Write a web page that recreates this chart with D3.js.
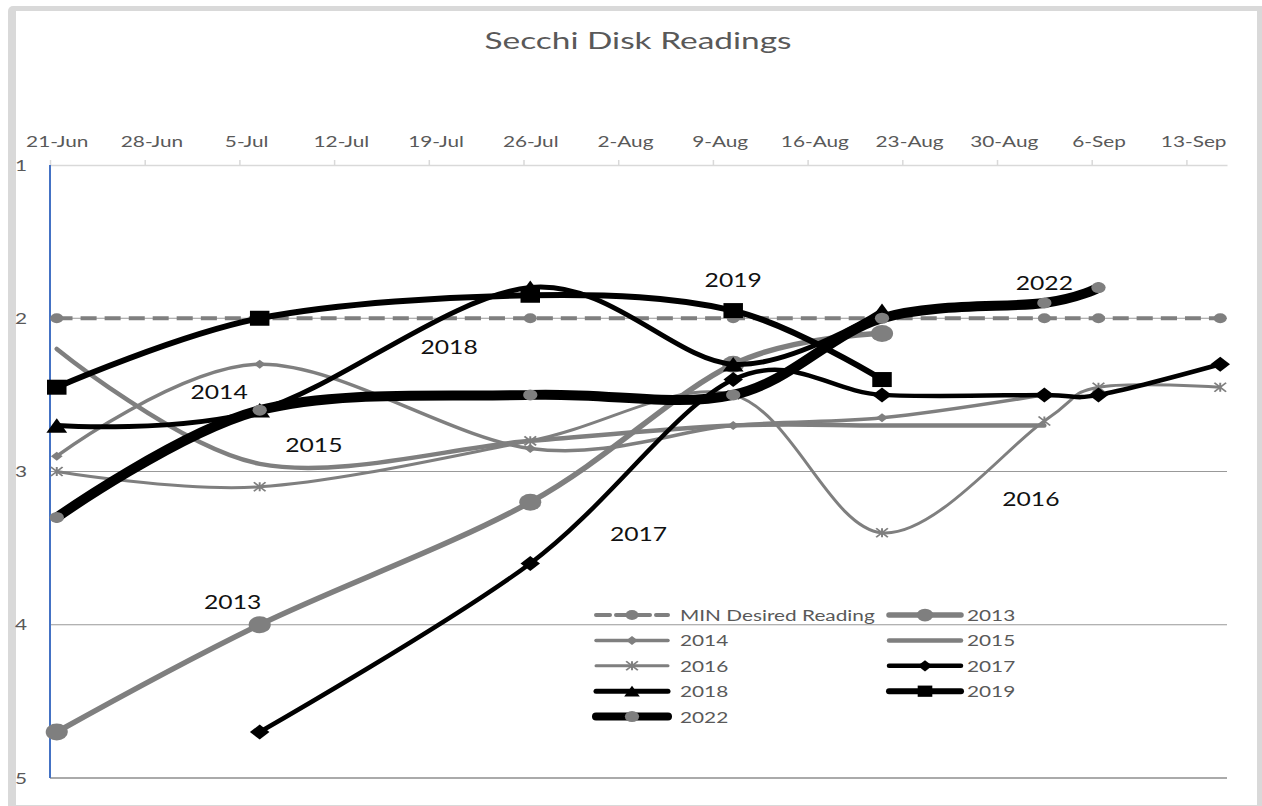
<!DOCTYPE html>
<html>
<head>
<meta charset="utf-8">
<script src="https://cdn.jsdelivr.net/npm/d3@7"></script>
<style>
  body { margin: 0; background: #fff; }
  svg { display: block; font-family: Lato, "Open Sans", sans-serif; }
</style>
</head>
<body>
<svg id="chart" width="1262" height="806"></svg>
<script>

// sampling dates (every year is put on the same season)
var dates = ["06-21", "07-06", "07-26", "08-10", "08-21", "09-02", "09-06", "09-15"];

// readings, null where there was no reading
var minDesired = [2, 2, 2, 2, 2, 2, 2, 2];
var y2013 = [4.7, 4.0, 3.2, 2.3, 2.1, null, null, null];
var y2014 = [2.9, 2.3, 2.85, 2.7, 2.65, 2.5, null, null];
var y2015 = [2.2, 2.95, 2.8, 2.7, 2.7, 2.7, null, null];
var y2016 = [3.0, 3.1, 2.8, 2.5, 3.4, 2.67, 2.45, 2.45];
var y2017 = [null, 4.7, 3.6, 2.4, 2.5, 2.5, 2.5, 2.3];
var y2018 = [2.7, 2.6, 1.8, 2.3, 1.95, null, null, null];
var y2019 = [2.45, 2.0, 1.85, 1.95, 2.4, null, null, null];
var y2022 = [3.3, 2.6, 2.5, 2.5, 2.0, 1.9, 1.8, null];

// axis ticks
var tickDates = ["06-21", "06-28", "07-05", "07-12", "07-19", "07-26", "08-02", "08-09", "08-16", "08-23", "08-30", "09-06", "09-13"];
var yTicks = [1, 2, 3, 4, 5];

// year labels written on the plot (date, reading)
var labelNames = ["2019", "2022", "2018", "2014", "2015", "2016", "2017", "2013"];
var labelDates = ["08-10", "09-02", "07-20", "07-03", "07-10", "09-01", "08-03", "07-04"];
var labelValues = [1.75, 1.77, 2.19, 2.48, 2.83, 3.18, 3.41, 3.85];

var gray = "#7f7f7f";
var textGray = "#595959";
var sx = 1.3;   // the whole picture is a bit wider than tall

var parse = d3.utcParse("%Y-%m-%d");
function toDate(s) { return parse("2022-" + s); }

var svg = d3.select("#chart");

// frame
svg.append("rect").attr("x", 8).attr("y", 6).attr("width", 1262).attr("height", 812)
    .attr("rx", 5).attr("fill", "#d9d9d9");
svg.append("rect").attr("x", 16).attr("y", 11).attr("width", 1241).attr("height", 794)
    .attr("fill", "#fff");

var x = d3.scaleUtc().domain([toDate("06-21"), toDate("09-16")]).range([50, 1227]);
var y = d3.scaleLinear().domain([1, 5]).range([165, 778]);
var halfDay = x(d3.utcHour.offset(x.domain()[0], 12)) - x(x.domain()[0]);
function xp(d) { return x(d) + halfDay; }

function stretch(sel) {
  sel.each(function() {
    var t = d3.select(this);
    var tx = +t.attr("x") || 0, ty = +t.attr("y") || 0;
    t.attr("x", 0).attr("y", 0)
      .attr("transform", "translate(" + tx + "," + ty + ") scale(" + sx + ",1)");
  });
}

// title
svg.append("text")
    .attr("x", 638).attr("y", 49)
    .attr("text-anchor", "middle")
    .attr("fill", textGray)
    .attr("font-size", 24)
    .attr("textLength", 307)
    .attr("lengthAdjust", "spacingAndGlyphs")
    .text("Secchi Disk Readings");

// gridlines
svg.append("g").selectAll("line")
    .data(yTicks.slice(1))
    .enter().append("line")
    .attr("x1", 50).attr("x2", 1227)
    .attr("y1", function(d) { return y(d); })
    .attr("y2", function(d) { return y(d); })
    .attr("stroke", function(d) { return d == 5 ? "#aaaaaa" : "#999999"; })
    .attr("stroke-width", function(d) { return d == 5 ? 2 : 1; });

// date axis along the top
var xAxis = svg.append("g")
    .attr("transform", "translate(0," + y(1) + ")")
    .call(d3.axisTop(x)
      .tickValues(tickDates.map(toDate))
      .tickFormat(d3.utcFormat("%-d-%b"))
      .tickSize(5).tickSizeOuter(0).tickPadding(13));
xAxis.select(".domain").attr("stroke", "#d9d9d9").attr("stroke-width", 1.5);
xAxis.selectAll(".tick line").attr("stroke", "#d9d9d9").attr("stroke-width", 1.5);
xAxis.selectAll(".tick text")
    .attr("fill", textGray).attr("font-size", 16).attr("font-family", "Lato, sans-serif")
    .attr("x", halfDay);
stretch(xAxis.selectAll(".tick text"));

// reading axis
var yAxis = svg.append("g")
    .attr("transform", "translate(21,0)")
    .call(d3.axisLeft(y).tickValues(yTicks).tickFormat(d3.format("d")).tickSize(0).tickPadding(0));
yAxis.select(".domain").remove();
yAxis.selectAll(".tick text")
    .attr("text-anchor", "middle")
    .attr("fill", textGray).attr("font-size", 16).attr("font-family", "Lato, sans-serif");
stretch(yAxis.selectAll(".tick text"));

svg.append("line")
    .attr("x1", 50).attr("x2", 50).attr("y1", y(1)).attr("y2", y(5))
    .attr("stroke", "#4472c4").attr("stroke-width", 2);

var series = [
  { name: "MIN Desired Reading", values: minDesired, color: gray, width: 4, dash: "16,8", marker: "circle", r: 5, fill: gray },
  { name: "2013", values: y2013, color: gray, width: 5.5, marker: "circle", r: 8.5, fill: gray },
  { name: "2014", values: y2014, color: gray, width: 3.5, marker: "diamond", r: 4.5, fill: gray },
  { name: "2015", values: y2015, color: gray, width: 4.5, marker: null },
  { name: "2016", values: y2016, color: gray, width: 3, marker: "star", r: 4.5, fill: "none" },
  { name: "2017", values: y2017, color: "#000", width: 4.5, marker: "diamond", r: 7.5, fill: "#000" },
  { name: "2018", values: y2018, color: "#000", width: 5, marker: "triangle", r: 8, fill: "#000" },
  { name: "2019", values: y2019, color: "#000", width: 6, marker: "square", r: 7.5, fill: "#000" },
  { name: "2022", values: y2022, color: "#000", width: 10, marker: "circle", r: 5.5, fill: gray }
];

function markerPath(type, r) {
  if (type == "circle") return d3.symbol(d3.symbolCircle, Math.PI * r * r)();
  if (type == "diamond") return "M0," + (-r) + "L" + r + ",0L0," + r + "L" + (-r) + ",0Z";
  if (type == "square") return "M" + (-r) + "," + (-r) + "H" + r + "V" + r + "H" + (-r) + "Z";
  if (type == "triangle") return "M0," + (-r * 0.9) + "L" + r + "," + (r * 0.9) + "L" + (-r) + "," + (r * 0.9) + "Z";
  // asterisk
  return "M" + (-r) + "," + (-r) + "L" + r + "," + r + "M" + (-r) + "," + r + "L" + r + "," + (-r) + "M0," + (-r) + "V" + r;
}

function drawMarker(g, s, px, py, k) {
  if (!s.marker) return;
  g.append("path")
    .attr("d", markerPath(s.marker, s.r * k))
    .attr("transform", "translate(" + px + "," + py + ") scale(" + sx + ",1)")
    .attr("fill", s.fill)
    .attr("stroke", s.marker == "star" ? s.color : "none")
    .attr("stroke-width", 1.5);
}

var line = d3.line()
    .defined(function(d) { return d.v != null; })
    .x(function(d) { return xp(d.date); })
    .y(function(d) { return y(d.v); })
    .curve(d3.curveCardinal.tension(0));

series.forEach(function(s) {
  var pts = dates.map(function(d, i) { return { date: toDate(d), v: s.values[i] }; });
  var g = svg.append("g");
  g.append("path")
    .datum(pts)
    .attr("fill", "none")
    .attr("stroke", s.color)
    .attr("stroke-width", s.width)
    .attr("stroke-linejoin", "round")
    .attr("stroke-linecap", s.dash ? "butt" : "round")
    .attr("stroke-dasharray", s.dash || null)
    .attr("d", line);
  pts.forEach(function(p) {
    if (p.v != null) drawMarker(g, s, xp(p.date), y(p.v), 1);
  });
});

// year labels
var lab = svg.append("g").selectAll("text")
    .data(labelNames)
    .enter().append("text")
    .attr("x", function(d, i) { return xp(toDate(labelDates[i])); })
    .attr("y", function(d, i) { return y(labelValues[i]) + 7; })
    .attr("text-anchor", "middle")
    .attr("font-size", 19)
    .attr("fill", "#111")
    .text(function(d) { return d; });
stretch(lab);

// legend
var legX = [596, 889], legTextX = [680, 967];
var legend = svg.append("g");
series.forEach(function(s, i) {
  var col = i % 2, row = Math.floor(i / 2);
  var ly = 615 + row * 25.4;
  legend.append("line")
    .attr("x1", legX[col]).attr("x2", legX[col] + 72)
    .attr("y1", ly).attr("y2", ly)
    .attr("stroke", s.color)
    .attr("stroke-width", Math.min(s.width, 8))
    .attr("stroke-linecap", "round")
    .attr("stroke-dasharray", s.dash ? "14,6" : null);
  drawMarker(legend, s, legX[col] + 36, ly, s.r > 6 ? 0.75 : 1);
  var t = legend.append("text")
    .attr("x", legTextX[col]).attr("y", ly + 6)
    .attr("font-size", 16)
    .attr("fill", textGray)
    .text(s.name);
  stretch(t);
});

</script>
</body>
</html>
